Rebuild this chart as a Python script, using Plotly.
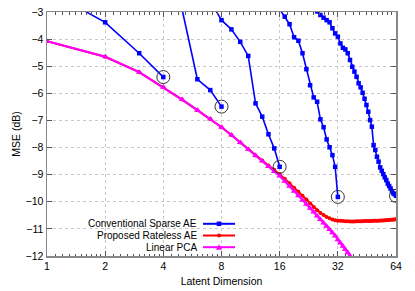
import plotly.graph_objects as go

# ---------------- data ----------------
x_ticks = [1, 2, 4, 8, 16, 32, 64]
x_tick_labels = ["1", "2", "4", "8", "16", "32", "64"]

pca_dims = list(range(1, 41))
pca_mse = [-4.08, -4.65, -5.22, -5.78, -6.23, -6.62, -6.95, -7.25, -7.54, -7.81,
           -8.06, -8.29, -8.50, -8.70, -8.88, -9.05, -9.24, -9.43, -9.61, -9.78,
           -9.94, -10.09, -10.24, -10.38, -10.52, -10.65, -10.78, -10.90, -11.02, -11.14,
           -11.26, -11.40, -11.52, -11.64, -11.76, -11.88, -12.00, -12.12, -12.24, -12.36]

rateless_dims = list(range(1, 65))
rateless_mse = [-4.08, -4.65, -5.22, -5.78, -6.23, -6.62, -6.95, -7.25, -7.54, -7.81,
                -8.06, -8.29, -8.48, -8.66, -8.82, -8.98, -9.15, -9.32, -9.48, -9.63,
                -9.78, -9.92, -10.06, -10.19, -10.31, -10.41, -10.49, -10.56, -10.61, -10.65,
                -10.68, -10.70, -10.70, -10.71, -10.72, -10.72, -10.73, -10.73, -10.73, -10.72,
                -10.72, -10.72, -10.72, -10.71, -10.71, -10.71, -10.71, -10.71, -10.70, -10.70,
                -10.70, -10.70, -10.69, -10.69, -10.69, -10.68, -10.68, -10.67, -10.67, -10.66,
                -10.66, -10.65, -10.65, -10.64]

sparse4_dims = [1, 2, 3, 4]
sparse4_mse = [-2.2, -3.38, -4.52, -5.40]

sparse8_dims = [5, 6, 7, 8]
sparse8_mse = [-2.9, -5.48, -5.88, -6.49]

sparse16_dims = list(range(7, 17))
sparse16_mse = [-2.6, -3.30, -3.64, -4.10, -4.62, -6.37, -6.86, -7.51, -8.03, -8.71]

sparse32_dims = list(range(16, 33))
sparse32_mse = [-2.9, -3.17, -3.45, -3.93, -4.06, -4.52, -5.11, -5.70, -6.15, -6.31,
                -6.96, -7.25, -7.70, -7.99, -8.28, -8.71, -9.82]

sparse64_dims = list(range(24, 65))
sparse64_mse = [-2.85, -2.98, -3.11, -3.21, -3.30, -3.38, -3.60, -3.79, -3.91, -4.16,
                -4.32, -4.38, -4.52, -4.77, -5.02, -5.20, -5.39, -5.63, -5.78, -5.98,
                -6.20, -6.43, -6.68, -6.99, -7.23, -7.91, -8.09, -8.34, -8.52, -8.73,
                -8.86, -8.98, -9.10, -9.20, -9.33, -9.42, -9.51, -9.61, -9.69, -9.72,
                -9.78]

sparse_curves = [(sparse4_dims, sparse4_mse), (sparse8_dims, sparse8_mse),
                 (sparse16_dims, sparse16_mse), (sparse32_dims, sparse32_mse),
                 (sparse64_dims, sparse64_mse)]

BLUE = "#0000ff"
RED = "#ff0000"
MAG = "#ff00ff"
FONT = "Liberation Sans, Arial, sans-serif"

fig = go.Figure()

for d, m in sparse_curves:
    fig.add_trace(go.Scatter(x=d, y=m, mode="lines+markers",
                             line=dict(color=BLUE, width=1.6),
                             marker=dict(symbol="square", size=4.5, color=BLUE),
                             showlegend=False))

fig.add_trace(go.Scatter(x=rateless_dims, y=rateless_mse, mode="lines+markers",
                         line=dict(color=RED, width=2),
                         marker=dict(symbol="circle", size=4, color=RED),
                         showlegend=False))

fig.add_trace(go.Scatter(x=pca_dims, y=pca_mse, mode="lines+markers",
                         line=dict(color=MAG, width=2),
                         marker=dict(symbol="triangle-up", size=6, color=MAG),
                         showlegend=False))

# end-point circles of the sparse AE curves
fig.add_trace(go.Scatter(x=[d[-1] for d, m in sparse_curves],
                         y=[m[-1] for d, m in sparse_curves],
                         mode="markers",
                         marker=dict(symbol="circle-open", size=13, color="#333333",
                                     line=dict(width=1)),
                         showlegend=False))

# ---------------- geometry (body margin removed via post_script) ----------------
PL, PR, PT, PB = 47, 396, 12, 256          # plot area in page pixels
FIG_W, FIG_H = 415, 291
W, H = PR - PL, PB - PT


def px(xp):
    return (xp - PL) / W


def py(yp):
    return (PB - yp) / H


legend_items = [("Conventional Sparse AE", BLUE, "square", 223.8),
                ("Proposed Rateless AE", RED, "circle", 235.5),
                ("Linear PCA", MAG, "triangle", 247.2)]
shapes = []
annotations = []
for name, col, sym, yp in legend_items:
    annotations.append(dict(x=px(198), y=py(yp), xref="paper", yref="paper",
                            text=name, showarrow=False, xanchor="right", yanchor="middle",
                            borderpad=0,
                            font=dict(family=FONT, size=10, color="black")))
    shapes.append(dict(type="line", xref="paper", yref="paper",
                       x0=px(203), x1=px(235), y0=py(yp), y1=py(yp),
                       line=dict(color=col, width=2)))
    cx, cy = 219, yp
    if sym == "square":
        shapes.append(dict(type="rect", xref="paper", yref="paper",
                           x0=px(cx - 2.3), x1=px(cx + 2.3), y0=py(cy + 2.3), y1=py(cy - 2.3),
                           fillcolor=col, line=dict(width=0)))
    elif sym == "circle":
        shapes.append(dict(type="circle", xref="paper", yref="paper",
                           x0=px(cx - 2), x1=px(cx + 2), y0=py(cy + 2), y1=py(cy - 2),
                           fillcolor=col, line=dict(width=0)))
    else:
        path = "M {:.5f},{:.5f} L {:.5f},{:.5f} L {:.5f},{:.5f} Z".format(
            px(cx - 3), py(cy + 2.5), px(cx + 3), py(cy + 2.5), px(cx), py(cy - 3))
        shapes.append(dict(type="path", xref="paper", yref="paper", path=path,
                           fillcolor=col, line=dict(width=0)))

# minor ticks (linear steps between powers of two)
minor_vals = []
for i in range(6):
    lo = 2 ** i
    for k in range(1, 10):
        minor_vals.append(lo + lo * k / 10)

fig.update_layout(
    width=FIG_W, height=FIG_H,
    margin=dict(l=PL, r=FIG_W - PR, t=PT, b=FIG_H - PB, autoexpand=False),
    paper_bgcolor="white", plot_bgcolor="white",
    font=dict(family=FONT, size=10, color="black"),
    shapes=shapes, annotations=annotations,
    showlegend=False,
)

fig.update_xaxes(type="log", range=[0, 1.80618], automargin=False,
                 tickvals=x_ticks, ticktext=x_tick_labels,
                 ticks="inside", ticklen=5, tickcolor="#555555",
                 showline=True, linecolor="#888888", linewidth=1.5, mirror="ticks",
                 showgrid=True, gridcolor="#c8c8c8", griddash="dot", gridwidth=1,
                 zeroline=False, ticklabeloverflow="allow",
                 minor=dict(tickvals=minor_vals, ticks="inside", ticklen=2.5,
                            tickcolor="#555555", showgrid=False),
                 title=dict(text="Latent Dimension", standoff=6,
                            font=dict(family=FONT, size=10.5)),
                 tickfont=dict(family=FONT, size=10.5))

fig.update_yaxes(range=[-12, -3], dtick=1, automargin=False,
                 ticks="inside", ticklen=5, tickcolor="#555555",
                 showline=True, linecolor="#888888", linewidth=1.5, mirror="ticks",
                 showgrid=True, gridcolor="#c8c8c8", griddash="dot", gridwidth=1,
                 zeroline=False, ticklabeloverflow="allow",
                 title=dict(text="MSE (dB)", standoff=3,
                            font=dict(family=FONT, size=10.5)),
                 tickfont=dict(family=FONT, size=10.5))

fig.write_html("out.html",
               config={"displayModeBar": False, "staticPlot": True},
               post_script="document.body.style.margin='0px';"
                           "document.body.style.padding='0px';"
                           "document.body.style.overflow='hidden';")
